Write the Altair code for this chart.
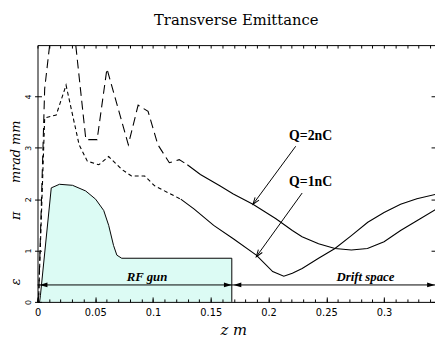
import altair as alt
import pandas as pd

# ---- data ----
# RF gun field profile (shaded)
gun_z = [0.0, 0.0018, 0.0025, 0.0119, 0.019, 0.0303, 0.0417, 0.0503, 0.0573, 0.0616, 0.0658, 0.0687, 0.0729, 0.1682, 0.1682]
gun_e = [0.0, 0.0, 0.12, 2.22, 2.29, 2.27, 2.16, 2.0, 1.78, 1.49, 1.10, 0.91, 0.85, 0.85, 0.0]

# Q=2nC emittance
q2_z = [0.0, 0.001, 0.0062, 0.0105, 0.021, 0.0332, 0.0417, 0.042, 0.0516, 0.0601, 0.0786, 0.0871, 0.0957,
        0.1042, 0.1141, 0.1227, 0.1297, 0.141, 0.1578, 0.1695, 0.1865, 0.2064, 0.2206, 0.229, 0.2433,
        0.2575, 0.2717, 0.2856, 0.3, 0.3143, 0.3284, 0.3455]
q2_e = [0.0, 0.1, 4.15, 5.0, 7.3, 4.98, 3.19, 3.16, 3.16, 4.54, 3.06, 3.83, 3.71,
        3.06, 2.71, 2.77, 2.67, 2.48, 2.26, 2.10, 1.90, 1.62, 1.39, 1.27, 1.13,
        1.04, 1.01, 1.04, 1.17, 1.39, 1.58, 1.81]

# Q=1nC emittance
q1_z = [0.0, 0.001, 0.0062, 0.0162, 0.0247, 0.036, 0.0431, 0.0531, 0.0616, 0.0729, 0.0814, 0.0928,
        0.1014, 0.1127, 0.124, 0.1354, 0.1525, 0.1695, 0.1894, 0.2036, 0.2132, 0.2206, 0.2291, 0.2433,
        0.2575, 0.2717, 0.2859, 0.3, 0.3143, 0.3284, 0.346]
q1_e = [0.0, 0.1, 3.58, 3.64, 4.22, 3.06, 2.74, 2.67, 2.83, 2.58, 2.45, 2.45,
        2.26, 2.13, 2.0, 1.81, 1.49, 1.23, 0.91, 0.59, 0.5, 0.56, 0.65, 0.85,
        1.04, 1.29, 1.55, 1.74, 1.90, 2.01, 2.10]

q2_split = 0.1297
q1_split = 0.124

x_major = [0, 0.05, 0.1, 0.15, 0.2, 0.25, 0.3]
x_minor = [0, 0.01, 0.02, 0.03, 0.04, 0.05, 0.06, 0.07, 0.08, 0.09, 0.1, 0.11, 0.12, 0.13, 0.14,
           0.15, 0.16, 0.17, 0.18, 0.19, 0.2, 0.21, 0.22, 0.23, 0.24, 0.25, 0.26, 0.27, 0.28,
           0.29, 0.3, 0.31, 0.32, 0.33, 0.34]
y_ticks = [0, 1, 2, 3, 4]

# annotations
gun_end = 0.1682
bracket_e = 0.33
region_labels = ["RF gun", "Drift space"]
region_z = [0.0948, 0.2839]
region_e = [0.48, 0.48]
q_labels = ["Q=2nC", "Q=1nC"]
q_label_z = [0.2364, 0.2364]
q_label_e = [3.23, 2.33]
q_arrow_from_z = [0.2235, 0.2291]
q_arrow_from_e = [3.03, 2.12]
q_arrow_to_z = [0.1865, 0.1894]
q_arrow_to_e = [1.90, 0.88]
q_arrow_ang = [126.4, 125.8]
title_text = "Transverse Emittance"
ytitle_parts = ["ε", "π", "mrad  mm"]

W, H = 404, 261
XDOM = [0, 0.3441]
YDOM = [0, 5]

gun = pd.DataFrame({"z": gun_z, "e": gun_e, "i": list(range(len(gun_z)))})
q2 = pd.DataFrame({"z": q2_z, "e": q2_e})
q1 = pd.DataFrame({"z": q1_z, "e": q1_e})
q2_d = q2[q2.z <= q2_split]
q2_s = q2[q2.z >= q2_split]
q1_d = q1[q1.z <= q1_split]
q1_s = q1[q1.z >= q1_split]

xs = alt.Scale(domain=XDOM, nice=False, zero=False)
ys = alt.Scale(domain=YDOM, nice=False, zero=False)

LBL = dict(labelFont="DejaVu Sans", labelFontSize=10, labelColor="black")

ax_main = alt.Axis(orient="bottom", values=x_major, format="~g", ticks=False, domain=True,
                   labelPadding=6, labelFlush=False, zindex=1,
                   title="z  m", titleFont="DejaVu Serif", titleFontStyle="italic",
                   titleFontWeight="normal", titleFontSize=15, titleColor="black",
                   titleY=33, titleX=199, titleBaseline="alphabetic", **LBL)
ax_bot_major = alt.Axis(orient="top", offset=-H, values=x_major, tickSize=5, labels=False,
                        domain=False, zindex=1, title="")
ax_bot_minor = alt.Axis(orient="top", offset=-H, values=x_minor, tickSize=3, labels=False,
                        domain=False, zindex=1, title="")
ax_top_line = alt.Axis(orient="top", ticks=False, labels=False, domain=True, zindex=1, title="")
ax_top_minor = alt.Axis(orient="bottom", offset=-H, values=x_minor, tickSize=3, labels=False,
                        domain=False, zindex=1, title="")

ay_main = alt.Axis(orient="left", values=y_ticks, tickSize=3, labelAngle=270, labelAlign="center",
                   labelBaseline="bottom", labelPadding=2, domain=True, zindex=1, title="",
                   labelFont="DejaVu Sans", labelFontSize=8, labelColor="black")
ay_left_in = alt.Axis(orient="right", offset=-W, values=y_ticks, tickSize=4, labels=False,
                      domain=False, zindex=1, title="")
ay_right_in = alt.Axis(orient="left", offset=-W, values=y_ticks, tickSize=4, labels=False,
                       domain=False, zindex=1, title="")

area = alt.Chart(gun).mark_area(color="#dcfbf4", opacity=1).encode(
    x=alt.X("z:Q", scale=xs, axis=ax_main),
    y=alt.Y("e:Q", scale=ys, axis=ay_main, stack=None),
)
outline = alt.Chart(gun).mark_line(color="black", strokeWidth=1).encode(
    x=alt.X("z:Q", scale=xs, axis=None),
    y=alt.Y("e:Q", scale=ys, axis=None),
    order="i:Q",
)

def curve(df, dash, xaxis, yaxis):
    kw = {"strokeDash": dash} if dash else {}
    m = alt.Chart(df).mark_line(color="black", strokeWidth=1.1, clip=True, **kw)
    return m.encode(x=alt.X("z:Q", scale=xs, axis=xaxis),
                    y=alt.Y("e:Q", scale=ys, axis=yaxis))

c2d = curve(q2_d, [9, 5], ax_bot_major, ay_left_in)
c2s = curve(q2_s, None, ax_bot_minor, ay_right_in)
c1d = curve(q1_d, [4, 3], ax_top_line, None)
c1s = curve(q1_s, None, ax_top_minor, None)

brackets = pd.DataFrame({"z": [0.0, gun_end], "z2": [gun_end, XDOM[1]], "e": [bracket_e, bracket_e]})
br = alt.Chart(brackets).mark_rule(color="black", strokeWidth=1).encode(
    x=alt.X("z:Q", scale=xs, axis=None), x2="z2:Q", y=alt.Y("e:Q", scale=ys, axis=None))

heads = pd.DataFrame({"z": [0.0018, gun_end, gun_end + 0.0014, XDOM[1]],
                      "e": [bracket_e] * 4, "ang": [180, 0, 180, 0]})
hd = alt.Chart(heads).mark_point(shape="M0,0L-2,-0.6L-2,0.6Z", filled=True, color="black",
                                  size=64, opacity=1).encode(
    x=alt.X("z:Q", scale=xs, axis=None), y=alt.Y("e:Q", scale=ys, axis=None),
    angle=alt.Angle("ang:Q", scale=None))

qa = pd.DataFrame({"z": q_arrow_from_z, "e": q_arrow_from_e, "z2": q_arrow_to_z, "e2": q_arrow_to_e})
qarr = alt.Chart(qa).mark_rule(color="black", strokeWidth=1).encode(
    x=alt.X("z:Q", scale=xs, axis=None), y=alt.Y("e:Q", scale=ys, axis=None), x2="z2:Q", y2="e2:Q")
qh = pd.DataFrame({"z": q_arrow_to_z, "e": q_arrow_to_e, "ang": q_arrow_ang})
qhead = alt.Chart(qh).mark_point(shape="M-2,-0.7L0,0L-2,0.7", filled=False, color="black",
                                  strokeWidth=1, size=49, opacity=1).encode(
    x=alt.X("z:Q", scale=xs, axis=None), y=alt.Y("e:Q", scale=ys, axis=None),
    angle=alt.Angle("ang:Q", scale=None))

ql = pd.DataFrame({"z": q_label_z, "e": q_label_e, "t": q_labels})
qtext = alt.Chart(ql).mark_text(font="Liberation Serif", fontWeight="bold", fontSize=14,
                                 color="black", align="center", baseline="middle").encode(
    x=alt.X("z:Q", scale=xs, axis=None), y=alt.Y("e:Q", scale=ys, axis=None), text="t:N")

rl = pd.DataFrame({"z": region_z, "e": region_e, "t": region_labels})
rtext = alt.Chart(rl).mark_text(font="Liberation Serif", fontWeight="bold", fontStyle="italic",
                                 fontSize=13, color="black", align="center", baseline="middle").encode(
    x=alt.X("z:Q", scale=xs, axis=None), y=alt.Y("e:Q", scale=ys, axis=None), text="t:N")

# y-axis title pieces (rotated)
ytitle_pos = [240.5, 173.5, 108.5]
yt_layers = []
for txt, py in zip(ytitle_parts, ytitle_pos):
    yt_layers.append(
        alt.Chart(pd.DataFrame({"t": [txt]})).mark_text(
            font="DejaVu Serif", fontStyle="italic", fontSize=13, angle=270, color="black",
            align="center", baseline="middle").encode(
            x=alt.value(-22), y=alt.value(py), text="t:N"))

title = alt.Chart(pd.DataFrame({"t": [title_text]})).mark_text(
    font="DejaVu Serif", fontSize=15, color="black", align="center", baseline="alphabetic").encode(
    x=alt.value(W / 2), y=alt.value(-20), text="t:N")

chart = alt.layer(area, outline, c2d, c2s, c1d, c1s, br, hd, qarr, qhead, qtext, rtext, title,
                  *yt_layers).resolve_axis(
    x="independent", y="independent"
).properties(
    width=W, height=H,
    autosize=alt.AutoSizeParams(type="none"),
    padding={"left": 30, "top": 35, "right": 0, "bottom": 35},
    background="white",
).configure_axis(
    grid=False, domainColor="black", tickColor="black", domainWidth=1, tickWidth=1
).configure_view(stroke=None)

chart.save("out.html", embed_options={"renderer": "svg", "actions": False})
